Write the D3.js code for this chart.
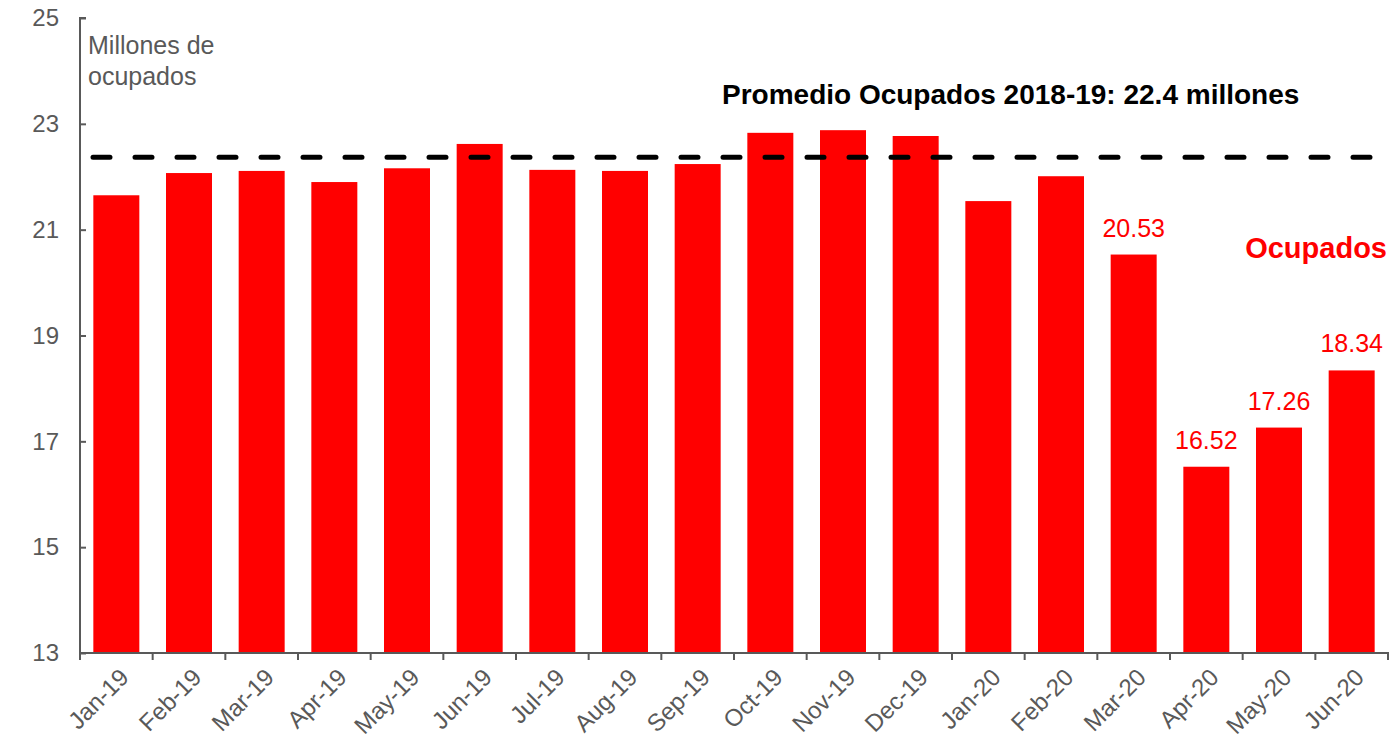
<!DOCTYPE html>
<html>
<head>
<meta charset="utf-8">
<script src="https://cdn.jsdelivr.net/npm/d3@7"></script>
<style>
  body { margin: 0; background: #fff; }
  svg text { font-family: "Liberation Sans", Arial, sans-serif; }
</style>
</head>
<body>
<div class="canvas"></div>
<script>
// data
const months = ['Jan-19','Feb-19','Mar-19','Apr-19','May-19','Jun-19','Jul-19','Aug-19','Sep-19',
  'Oct-19','Nov-19','Dec-19','Jan-20','Feb-20','Mar-20','Apr-20','May-20','Jun-20'];
const ocupados = [21.65, 22.07, 22.11, 21.90, 22.16, 22.62, 22.13, 22.11, 22.24,
  22.83, 22.88, 22.77, 21.54, 22.01, 20.53, 16.52, 17.26, 18.34];
const labelled = ['Mar-20','Apr-20','May-20','Jun-20'];
const yTicks = [13, 15, 17, 19, 21, 23, 25];
const promedio = 22.37;
const promedioText = 'Promedio Ocupados 2018-19: 22.4 millones';

const width = 1391, height = 739;
const margin = {top: 18, right: 2, bottom: 86, left: 80};
const graphWidth = width - margin.left - margin.right;
const graphHeight = height - margin.top - margin.bottom;

const svg = d3.select('.canvas')
  .append('svg')
  .attr('width', width)
  .attr('height', height);

const graph = svg.append('g')
  .attr('transform', `translate(${margin.left},${margin.top})`);

const x = d3.scaleBand()
  .domain(months)
  .range([0, graphWidth - 1])
  .paddingInner(0.367)
  .paddingOuter(0.1835);

const y = d3.scaleLinear()
  .domain([13, 25])
  .range([graphHeight, 0]);

// bars
graph.selectAll('rect.bar')
  .data(months)
  .enter().append('rect')
  .attr('class', 'bar')
  .attr('x', d => x(d))
  .attr('width', x.bandwidth())
  .attr('y', (d, i) => y(ocupados[i]))
  .attr('height', (d, i) => graphHeight - y(ocupados[i]))
  .attr('fill', '#ff0000');

// average line
graph.append('line')
  .attr('x1', 13)
  .attr('x2', graphWidth + 4)
  .attr('y1', y(promedio))
  .attr('y2', y(promedio))
  .attr('stroke', '#000')
  .attr('stroke-width', 5)
  .attr('stroke-linecap', 'round')
  .attr('stroke-dasharray', '17,25');

// axes
const axisColor = '#595959';
const yAxis = d3.axisLeft(y).tickValues(yTicks).tickSize(-6).tickPadding(21);
const yAxisGroup = graph.append('g').call(yAxis);
yAxisGroup.select('.domain').attr('stroke', axisColor).attr('stroke-width', 2).attr('d', `M6,0H0V${graphHeight}`);
yAxisGroup.selectAll('.tick line').attr('stroke', axisColor).attr('stroke-width', 2);
yAxisGroup.selectAll('.tick text')
  .attr('fill', axisColor)
  .style('font-size', '24px');

const xAxisGroup = graph.append('g').attr('transform', `translate(0,${graphHeight})`);
xAxisGroup.append('line')
  .attr('x1', 0).attr('x2', graphWidth)
  .attr('stroke', axisColor).attr('stroke-width', 2);
xAxisGroup.selectAll('line.tick')
  .data(d3.range(months.length + 1))
  .enter().append('line')
  .attr('class', 'tick')
  .attr('x1', i => i * x.step()).attr('x2', i => i * x.step())
  .attr('y1', 0).attr('y2', 7)
  .attr('stroke', axisColor).attr('stroke-width', 2);
xAxisGroup.selectAll('text')
  .data(months)
  .enter().append('text')
  .attr('transform', d => `translate(${x(d) + x.bandwidth() / 2 + 2},${14}) rotate(-45)`)
  .attr('text-anchor', 'end')
  .attr('dy', '0.7em')
  .attr('fill', axisColor)
  .style('font-size', '24px')
  .text(d => d);

// value labels
graph.selectAll('text.val')
  .data(labelled)
  .enter().append('text')
  .attr('class', 'val')
  .attr('x', d => x(d) + x.bandwidth() / 2)
  .attr('y', d => y(ocupados[months.indexOf(d)]) - 18)
  .attr('text-anchor', 'middle')
  .attr('fill', '#ff0000')
  .style('font-size', '25px')
  .text(d => ocupados[months.indexOf(d)].toFixed(2));

// annotations
const unit = graph.append('text')
  .attr('fill', axisColor)
  .style('font-size', '25px');
unit.append('tspan').attr('x', 8).attr('y', 36).text('Millones de');
unit.append('tspan').attr('x', 8).attr('y', 67).text('ocupados');

graph.append('text')
  .attr('x', 642)
  .attr('y', 86)
  .attr('fill', '#000')
  .style('font-size', '28px')
  .style('font-weight', 'bold')
  .text(promedioText);

graph.append('text')
  .attr('x', graphWidth - 2)
  .attr('y', 240)
  .attr('text-anchor', 'end')
  .attr('fill', '#ff0000')
  .style('font-size', '29px')
  .style('font-weight', 'bold')
  .text('Ocupados');
</script>
</body>
</html>
